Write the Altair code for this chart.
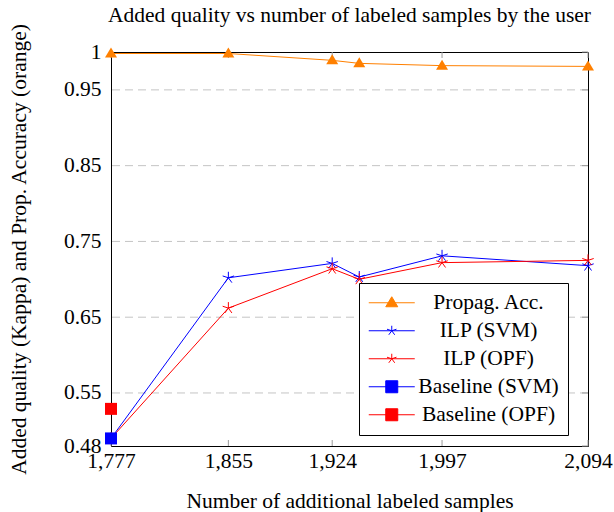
import altair as alt
import pandas as pd

# ---------------- data ----------------
x_vals = [1777, 1855, 1924, 1942, 1997, 2094]
propag_acc = [0.998, 0.998, 0.989, 0.985, 0.982, 0.981]
ilp_svm = [0.490, 0.702, 0.721, 0.703, 0.731, 0.718]
ilp_opf = [0.490, 0.662, 0.714, 0.700, 0.722, 0.725]
baseline_x = [1777]
baseline_svm = [0.490]
baseline_opf = [0.529]

series_names = ["Propag. Acc.", "ILP (SVM)", "ILP (OPF)", "Baseline (SVM)", "Baseline (OPF)"]
series_colors = ["#ff8000", "#0000ff", "#ff0000", "#0000ff", "#ff0000"]

x_ticks = [1777, 1855, 1924, 1997, 2094]
y_ticks = [0.48, 0.55, 0.65, 0.75, 0.85, 0.95, 1.0]

FONT = "Liberation Serif"
FS = 21.5
W, H = 477, 394

# marker paths
TRI = "M0,-1.2L1.2,0.8L-1.2,0.8Z"
STAR = "M0,0L0,-1M0,0L-0.951,-0.309M0,0L-0.588,0.809M0,0L0.588,0.809M0,0L0.951,-0.309"
SQ = "M-1.2,-1.2H1.2V1.2H-1.2Z"
LINE = "M-4.6,0H4.6"
legend_paths = [LINE + TRI, LINE + STAR, LINE + STAR, LINE + SQ, LINE + SQ]

rows = []
for name, ys in [("Propag. Acc.", propag_acc), ("ILP (SVM)", ilp_svm), ("ILP (OPF)", ilp_opf)]:
    for x, y in zip(x_vals, ys):
        rows.append({"series": name, "x": x, "y": y})
for name, ys in [("Baseline (SVM)", baseline_svm), ("Baseline (OPF)", baseline_opf)]:
    for x, y in zip(baseline_x, ys):
        rows.append({"series": name, "x": x, "y": y})
df = pd.DataFrame(rows)

xscale = alt.Scale(domain=[x_ticks[0], x_ticks[-1]], nice=False, zero=False)
yscale = alt.Scale(domain=[y_ticks[0], y_ticks[-1]], nice=False, zero=False)
fscale = alt.Scale(domain=series_names, range=series_colors)

X = alt.X("x:Q", scale=xscale,
          axis=alt.Axis(values=x_ticks, format=",d", title="Number of additional labeled samples",
                        grid=False, ticks=False, domain=False, labelOverlap=False, labelFlush=False,
                        labelFont=FONT, labelFontSize=FS, labelColor="black", labelPadding=4,
                        titleFont=FONT, titleFontSize=FS, titleFontWeight="normal", titleColor="black",
                        titlePadding=19))
Y = alt.Y("y:Q", scale=yscale,
          axis=alt.Axis(values=y_ticks, format="~g",
                        title="Added quality (Kappa) and Prop. Accuracy (orange)",
                        grid=False, ticks=False, domain=False, labelOverlap=False, labelFlush=False,
                        labelFont=FONT, labelFontSize=FS, labelColor="black", labelPadding=10,
                        titleFont=FONT, titleFontSize=FS, titleFontWeight="normal", titleColor="black",
                        titlePadding=33))
Xp = alt.X("x:Q", scale=xscale)
Yp = alt.Y("y:Q", scale=yscale)
F = alt.Fill("series:N", scale=fscale)
S = alt.Stroke("series:N", scale=fscale)

# grid lines (interior tick values)
grid_df = pd.DataFrame({"y": y_ticks[1:-1]})
grid = alt.Chart(grid_df).mark_rule(color="#c4c4c4", strokeWidth=1, strokeDash=[8, 5]).encode(y=Yp)

# inward ticks
xt_df = pd.DataFrame({"x": x_ticks})
yt_df = pd.DataFrame({"y": y_ticks})
tick_col = "#9a9a9a"
xt_bottom = alt.Chart(xt_df).mark_rule(color=tick_col).encode(
    x=Xp, y=alt.value(H), y2=alt.value(H - 6))
xt_top = alt.Chart(xt_df).mark_rule(color=tick_col).encode(
    x=Xp, y=alt.value(0), y2=alt.value(6))
yt_right = alt.Chart(yt_df).mark_rule(color=tick_col).encode(
    y=Yp, x=alt.value(W - 6), x2=alt.value(W))

base = alt.Chart(df)
lines = base.transform_filter(
    alt.FieldOneOfPredicate(field="series", oneOf=series_names[:3])
).mark_line(strokeWidth=1).encode(x=X, y=Y, stroke=S, order="x:Q")

tri_pts = base.transform_filter(alt.datum.series == "Propag. Acc.").mark_point(
    shape=TRI, filled=True, size=100, opacity=1, strokeWidth=0).encode(x=Xp, y=Yp, fill=F)
star_pts = base.transform_filter(
    alt.FieldOneOfPredicate(field="series", oneOf=["ILP (SVM)", "ILP (OPF)"])
).mark_point(shape=STAR, filled=False, size=144, strokeWidth=1, opacity=1).encode(x=Xp, y=Yp, stroke=S)
sq_pts = base.transform_filter(
    alt.FieldOneOfPredicate(field="series", oneOf=["Baseline (SVM)", "Baseline (OPF)"])
).mark_point(shape=SQ, filled=True, size=100, opacity=1, strokeWidth=0).encode(x=Xp, y=Yp, fill=F)

leg = alt.Legend(title=None, orient="none", legendX=248, legendY=231,
                 fillColor="white", strokeColor="black", padding=9,
                 labelFont=FONT, labelFontSize=FS, labelColor="black",
                 labelAlign="center", labelOffset=86, symbolOffset=13,
                 rowPadding=5, symbolSize=100, symbolStrokeWidth=1, gridAlign="all")
legend_df = pd.DataFrame({"series": series_names})
legend_layer = alt.Chart(legend_df).transform_filter("false").mark_point(
    filled=True, size=100, opacity=1).encode(
    fill=alt.Fill("series:N", scale=fscale, legend=leg),
    stroke=alt.Stroke("series:N", scale=fscale, legend=leg),
    shape=alt.Shape("series:N", scale=alt.Scale(domain=series_names, range=legend_paths), legend=leg),
)

chart = alt.layer(
    grid, xt_bottom, xt_top, yt_right, lines, tri_pts, star_pts, sq_pts, legend_layer
).properties(
    width=W, height=H,
    title=alt.TitleParams("Added quality vs number of labeled samples by the user",
                          font=FONT, fontSize=FS, fontWeight="normal", color="black",
                          anchor="middle", frame="group", offset=-3, dx=0),
    autosize=alt.AutoSizeParams(type="none"),
    padding={"left": 111, "top": 52, "right": 26, "bottom": 66},
).configure(background="white").configure_view(stroke="black", strokeWidth=1)

chart.save("out.html", embed_options={"renderer": "svg", "actions": False})
